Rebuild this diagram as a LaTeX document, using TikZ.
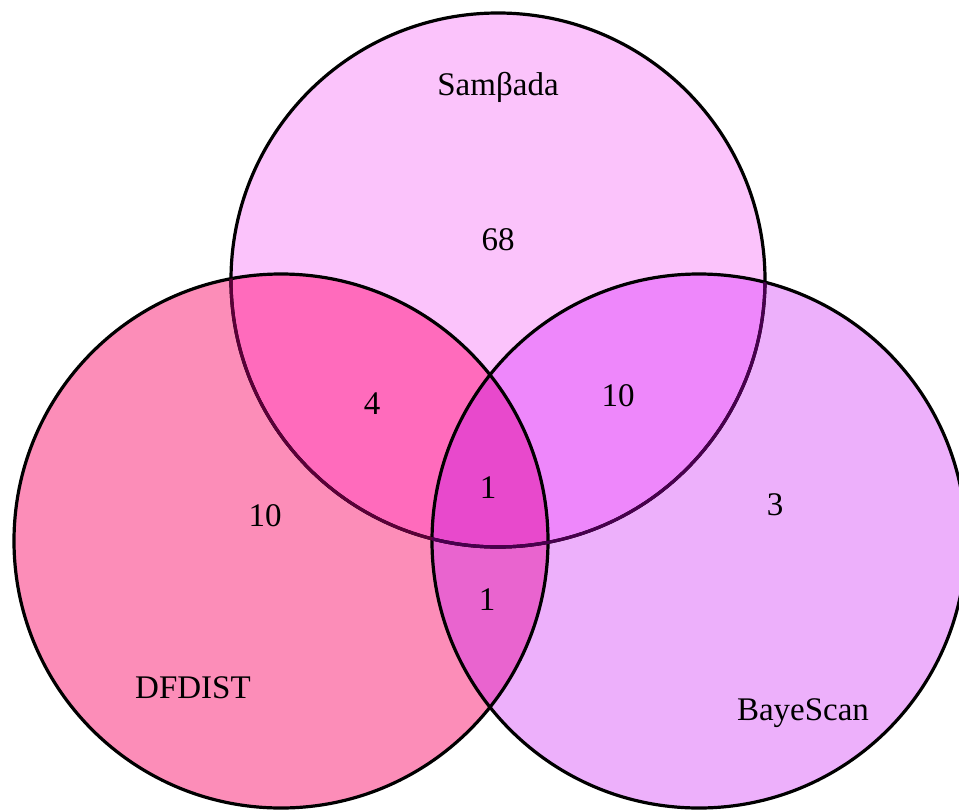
\documentclass[tikz,border=0pt]{standalone}
\usepackage{fontspec}
\setmainfont{Liberation Serif}
\definecolor{sOnly}{HTML}{FBC3FB}
\definecolor{dOnly}{HTML}{FC8DB8}
\definecolor{bOnly}{HTML}{EDB0FB}
\definecolor{sd}{HTML}{FF6BBC}
\definecolor{sb}{HTML}{EE87FB}
\definecolor{sdb}{HTML}{E849CC}
\definecolor{db}{HTML}{E964CF}
\definecolor{lineA}{HTML}{5A0038}
\definecolor{lineB}{HTML}{48004E}
\begin{document}
\begin{tikzpicture}[x=0.5pt,y=-0.5pt,
  lbl/.style={font=\fontsize{16.5}{18}\selectfont, inner sep=0pt},
  outline/.style={line width=1.6pt}]
\useasboundingbox (0,0) rectangle (959,809);
\def\R{267}
\coordinate (S) at (498,280);
\coordinate (D) at (281,541);
\coordinate (B) at (699,541);
\begin{scope}
\clip (0,0) rectangle (959,809);
% single fills
\fill[sOnly] (S) circle (\R);
\fill[dOnly] (D) circle (\R);
\fill[bOnly] (B) circle (\R);
% pairwise
\begin{scope}\clip (S) circle (\R); \fill[sd] (D) circle (\R);\end{scope}
\begin{scope}\clip (S) circle (\R); \fill[sb] (B) circle (\R);\end{scope}
\begin{scope}\clip (D) circle (\R); \fill[db] (B) circle (\R);\end{scope}
\begin{scope}\clip (S) circle (\R); \clip (D) circle (\R); \fill[sdb] (B) circle (\R);\end{scope}
% outlines
\draw[outline] (S) circle (\R);
\draw[outline] (D) circle (\R);
\draw[outline] (B) circle (\R);
\begin{scope}\clip (D) circle (\R); \draw[outline, lineA] (S) circle (\R);\end{scope}
\begin{scope}\clip (B) circle (\R); \draw[outline, lineB] (S) circle (\R);\end{scope}
\begin{scope}\clip (S) circle (\R); \clip (B) circle ({\R-3}); \draw[outline, lineB] (B) circle (\R);\end{scope}
\end{scope}
% labels
\node[lbl] (nS) at (498,87) {Samβada};
\node[lbl] (n68) at (498,240) {68};
\node[lbl] (n4) at (372,404) {4};
\node[lbl] (n10b) at (618,396) {10};
\node[lbl] (n1a) at (488,488) {1};
\node[lbl] (n10a) at (265,516) {10};
\node[lbl] (n3) at (775,505) {3};
\node[lbl] (n1b) at (487,600) {1};
\node[lbl] (nD) at (193,688) {DFDIST};
\node[lbl] (nB) at (803,713) {BayeScan};
\end{tikzpicture}
\end{document}
